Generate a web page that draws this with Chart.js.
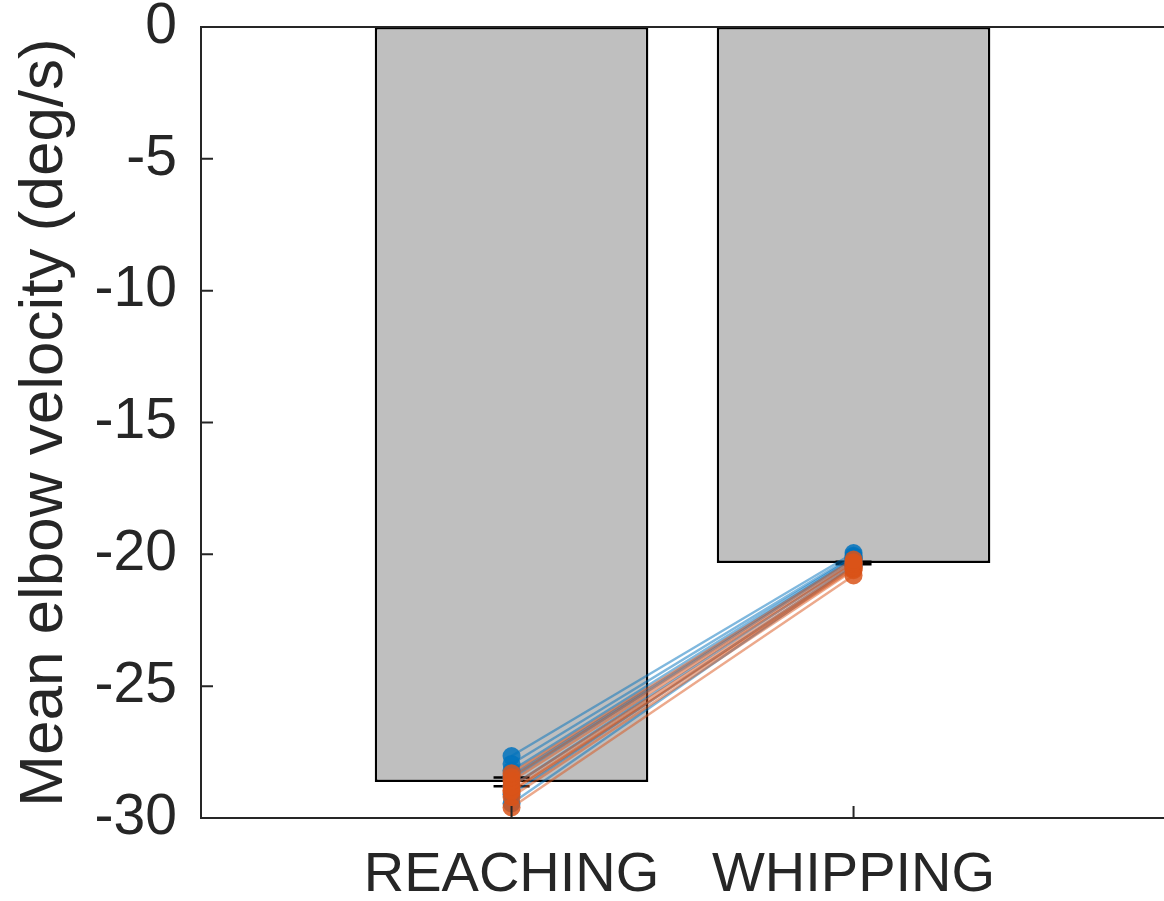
<!DOCTYPE html>
<html>
<head>
<meta charset="utf-8">
<script src="https://cdn.jsdelivr.net/npm/chart.js@4/dist/chart.umd.min.js"></script>
<style>
  html, body { margin: 0; padding: 0; overflow: hidden; background: #ffffff; }
  canvas { display: block; }
</style>
</head>
<body>
<canvas id="chart" width="1210" height="901"></canvas>
<script>
// Conditions and group means (deg/s)
const categories = ['REACHING', 'WHIPPING'];
const meanVelocity = [-28.63, -20.33];
const semVelocity = [0.17, 0.05];

// Per-subject means, group 1 (blue) and group 2 (orange)
const blueReaching  = [-27.65, -27.95, -28.2, -28.4, -28.5, -28.8, -29.1, -29.45];
const blueWhipping  = [-19.95, -20.05, -20.1, -20.15, -20.2, -20.3, -20.4, -20.45];
const orangeReaching = [-28.3, -28.45, -28.6, -28.8, -28.95, -29.0, -29.2, -29.6];
const orangeWhipping = [-20.2, -20.3, -20.35, -20.45, -20.5, -20.55, -20.6, -20.8];

const yTicks = [-30, -25, -20, -15, -10, -5, 0];
const xRange = [0.092, 3.013];

const INK = '#262626';
const FONT = "'Liberation Sans', Arial, Helvetica, sans-serif";

function subjectDatasets(reach, whip, rgb, order) {
  return reach.map((r, i) => ({
    type: 'line',
    order: order,
    data: [{ x: 1, y: r }, { x: 2, y: whip[i] }],
    borderColor: `rgba(${rgb},0.5)`,
    borderWidth: 2.5,
    pointRadius: 9,
    pointBackgroundColor: `rgba(${rgb},0.85)`,
    pointBorderWidth: 0,
    tension: 0,
    fill: false
  }));
}

// Axes box with inward ticks, plus error bars on the mean bars
const axesFrame = {
  id: 'axesFrame',
  afterDatasetDraw(chart, args) {
    if (args.index !== 0) return;
    const { ctx, scales: { x, y } } = chart;
    ctx.save();
    ctx.strokeStyle = '#000000';
    ctx.lineWidth = 2.5;
    meanVelocity.forEach((m, i) => {
      const px = x.getPixelForValue(i + 1);
      const lo = y.getPixelForValue(m - semVelocity[i]);
      const hi = y.getPixelForValue(m + semVelocity[i]);
      ctx.beginPath();
      ctx.moveTo(px, lo); ctx.lineTo(px, hi);
      ctx.moveTo(px - 18, lo); ctx.lineTo(px + 18, lo);
      ctx.moveTo(px - 18, hi); ctx.lineTo(px + 18, hi);
      ctx.stroke();
    });
    ctx.restore();
  },
  afterDraw(chart) {
    const { ctx, chartArea: a, scales: { x, y } } = chart;
    ctx.save();
    ctx.strokeStyle = INK;
    ctx.lineWidth = 2;
    ctx.beginPath();
    ctx.rect(a.left, a.top, a.right - a.left, a.bottom - a.top);
    yTicks.forEach(v => {
      const py = y.getPixelForValue(v);
      ctx.moveTo(a.left, py); ctx.lineTo(a.left + 12, py);
    });
    categories.forEach((c, i) => {
      const px = x.getPixelForValue(i + 1);
      ctx.moveTo(px, a.bottom); ctx.lineTo(px, a.bottom - 12);
    });
    ctx.stroke();
    ctx.restore();
  }
};

const datasets = [
  {
    type: 'bar',
    order: 3,
    data: categories.map((c, i) => ({ x: i + 1, y: meanVelocity[i] })),
    backgroundColor: '#bfbfbf',
    borderColor: '#000000',
    borderWidth: 2.5,
    borderSkipped: false,
    categoryPercentage: 1,
    barPercentage: 0.8
  },
  ...subjectDatasets(blueReaching, blueWhipping, '0,114,189', 2),
  ...subjectDatasets(orangeReaching, orangeWhipping, '217,83,25', 1)
];

new Chart(document.getElementById('chart'), {
  type: 'bar',
  data: { datasets },
  plugins: [axesFrame],
  options: {
    responsive: false,
    animation: false,
    devicePixelRatio: 1,
    layout: { padding: { top: 27, right: 10, bottom: 0, left: 0 } },
    plugins: { legend: { display: false }, tooltip: { enabled: false } },
    scales: {
      x: {
        type: 'linear',
        min: xRange[0],
        max: xRange[1],
        offset: false,
        grid: { display: false, drawTicks: false },
        border: { display: false },
        afterBuildTicks: s => { s.ticks = categories.map((c, i) => ({ value: i + 1 })); },
        afterFit: s => { s.height = 83; s.paddingLeft = 0; s.paddingRight = 0; },
        ticks: {
          color: INK,
          padding: 24,
          maxRotation: 0,
          autoSkip: false,
          font: { family: FONT, size: 56 },
          callback: v => categories[v - 1]
        }
      },
      y: {
        type: 'linear',
        min: yTicks[0],
        max: yTicks[yTicks.length - 1],
        grid: { display: false, drawTicks: false },
        border: { display: false },
        afterBuildTicks: s => { s.ticks = yTicks.map(v => ({ value: v })); },
        afterFit: s => { s.width = 201; s.paddingTop = 0; s.paddingBottom = 0; },
        ticks: {
          color: INK,
          padding: 24,
          font: { family: FONT, size: 57 },
          callback: v => String(v)
        },
        title: {
          display: true,
          text: 'Mean elbow velocity (deg/s)',
          color: INK,
          padding: { top: 8, bottom: 0 },
          font: { family: FONT, size: 62 }
        }
      }
    }
  }
});
</script>
</body>
</html>
